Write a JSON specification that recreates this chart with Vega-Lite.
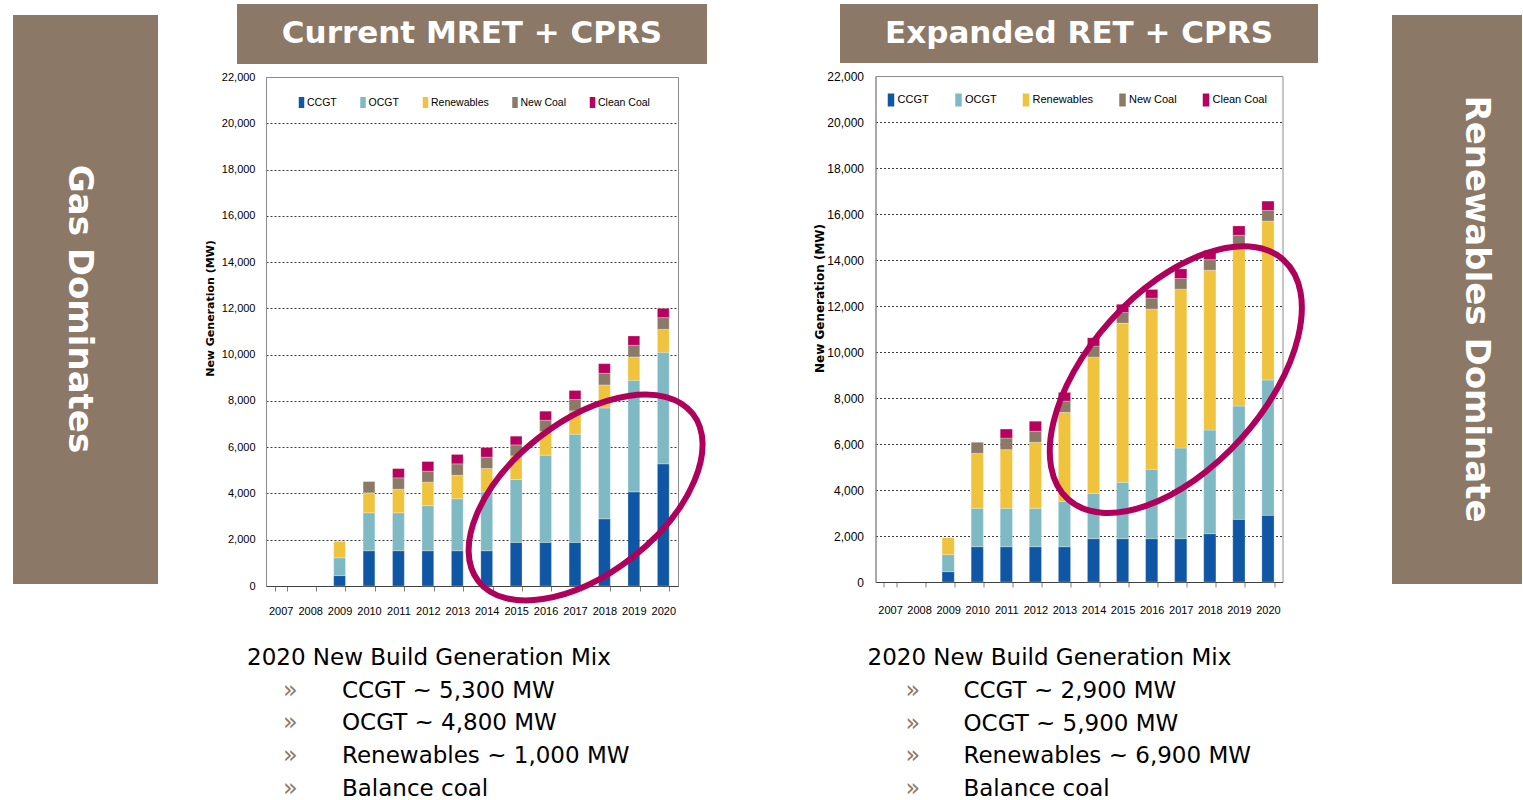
{
  "$schema": "https://vega.github.io/schema/vega-lite/v6.json",
  "padding": {"left": 13, "top": 4, "right": 0, "bottom": 0},
  "background": "white",
  "spacing": 0,
  "config": {
    "view": {"stroke": null},
    "font": "DejaVu Sans",
    "axis": {"labelFont": "Liberation Sans", "labelColor": "#000000", "labelFontSize": 11},
    "legend": {"labelFont": "Liberation Sans", "labelColor": "#000000"}
  },
  "resolve": {"scale": {"color": "independent"}, "legend": {"color": "independent"}},
  "datasets": {
    "left": [
      {"year": 2009, "type": "CCGT", "mw": 450}, {"year": 2009, "type": "OCGT", "mw": 770}, {"year": 2009, "type": "Renewables", "mw": 710},
      {"year": 2010, "type": "CCGT", "mw": 1525}, {"year": 2010, "type": "OCGT", "mw": 1640}, {"year": 2010, "type": "Renewables", "mw": 860}, {"year": 2010, "type": "New Coal", "mw": 490},
      {"year": 2011, "type": "CCGT", "mw": 1525}, {"year": 2011, "type": "OCGT", "mw": 1640}, {"year": 2011, "type": "Renewables", "mw": 1020}, {"year": 2011, "type": "New Coal", "mw": 490}, {"year": 2011, "type": "Clean Coal", "mw": 400},
      {"year": 2012, "type": "CCGT", "mw": 1525}, {"year": 2012, "type": "OCGT", "mw": 1945}, {"year": 2012, "type": "Renewables", "mw": 1020}, {"year": 2012, "type": "New Coal", "mw": 475}, {"year": 2012, "type": "Clean Coal", "mw": 415},
      {"year": 2013, "type": "CCGT", "mw": 1525}, {"year": 2013, "type": "OCGT", "mw": 2245}, {"year": 2013, "type": "Renewables", "mw": 1020}, {"year": 2013, "type": "New Coal", "mw": 490}, {"year": 2013, "type": "Clean Coal", "mw": 405},
      {"year": 2014, "type": "CCGT", "mw": 1525}, {"year": 2014, "type": "OCGT", "mw": 2545}, {"year": 2014, "type": "Renewables", "mw": 1010}, {"year": 2014, "type": "New Coal", "mw": 490}, {"year": 2014, "type": "Clean Coal", "mw": 415},
      {"year": 2015, "type": "CCGT", "mw": 1885}, {"year": 2015, "type": "OCGT", "mw": 2720}, {"year": 2015, "type": "Renewables", "mw": 1020}, {"year": 2015, "type": "New Coal", "mw": 475}, {"year": 2015, "type": "Clean Coal", "mw": 375},
      {"year": 2016, "type": "CCGT", "mw": 1885}, {"year": 2016, "type": "OCGT", "mw": 3770}, {"year": 2016, "type": "Renewables", "mw": 1020}, {"year": 2016, "type": "New Coal", "mw": 490}, {"year": 2016, "type": "Clean Coal", "mw": 390},
      {"year": 2017, "type": "CCGT", "mw": 1885}, {"year": 2017, "type": "OCGT", "mw": 4675}, {"year": 2017, "type": "Renewables", "mw": 1010}, {"year": 2017, "type": "New Coal", "mw": 490}, {"year": 2017, "type": "Clean Coal", "mw": 390},
      {"year": 2018, "type": "CCGT", "mw": 2905}, {"year": 2018, "type": "OCGT", "mw": 4790}, {"year": 2018, "type": "Renewables", "mw": 995}, {"year": 2018, "type": "New Coal", "mw": 505}, {"year": 2018, "type": "Clean Coal", "mw": 415},
      {"year": 2019, "type": "CCGT", "mw": 4070}, {"year": 2019, "type": "OCGT", "mw": 4820}, {"year": 2019, "type": "Renewables", "mw": 1010}, {"year": 2019, "type": "New Coal", "mw": 505}, {"year": 2019, "type": "Clean Coal", "mw": 400},
      {"year": 2020, "type": "CCGT", "mw": 5280}, {"year": 2020, "type": "OCGT", "mw": 4820}, {"year": 2020, "type": "Renewables", "mw": 995}, {"year": 2020, "type": "New Coal", "mw": 505}, {"year": 2020, "type": "Clean Coal", "mw": 400}
    ],
    "right": [
      {"year": 2009, "type": "CCGT", "mw": 450}, {"year": 2009, "type": "OCGT", "mw": 740}, {"year": 2009, "type": "Renewables", "mw": 740},
      {"year": 2010, "type": "CCGT", "mw": 1535}, {"year": 2010, "type": "OCGT", "mw": 1670}, {"year": 2010, "type": "Renewables", "mw": 2390}, {"year": 2010, "type": "New Coal", "mw": 480},
      {"year": 2011, "type": "CCGT", "mw": 1535}, {"year": 2011, "type": "OCGT", "mw": 1670}, {"year": 2011, "type": "Renewables", "mw": 2550}, {"year": 2011, "type": "New Coal", "mw": 505}, {"year": 2011, "type": "Clean Coal", "mw": 390},
      {"year": 2012, "type": "CCGT", "mw": 1535}, {"year": 2012, "type": "OCGT", "mw": 1670}, {"year": 2012, "type": "Renewables", "mw": 2870}, {"year": 2012, "type": "New Coal", "mw": 480}, {"year": 2012, "type": "Clean Coal", "mw": 435},
      {"year": 2013, "type": "CCGT", "mw": 1535}, {"year": 2013, "type": "OCGT", "mw": 1970}, {"year": 2013, "type": "Renewables", "mw": 3870}, {"year": 2013, "type": "New Coal", "mw": 490}, {"year": 2013, "type": "Clean Coal", "mw": 380},
      {"year": 2014, "type": "CCGT", "mw": 1885}, {"year": 2014, "type": "OCGT", "mw": 1970}, {"year": 2014, "type": "Renewables", "mw": 5925}, {"year": 2014, "type": "New Coal", "mw": 480}, {"year": 2014, "type": "Clean Coal", "mw": 360},
      {"year": 2015, "type": "CCGT", "mw": 1885}, {"year": 2015, "type": "OCGT", "mw": 2450}, {"year": 2015, "type": "Renewables", "mw": 6920}, {"year": 2015, "type": "New Coal", "mw": 460}, {"year": 2015, "type": "Clean Coal", "mw": 360},
      {"year": 2016, "type": "CCGT", "mw": 1885}, {"year": 2016, "type": "OCGT", "mw": 3015}, {"year": 2016, "type": "Renewables", "mw": 6970}, {"year": 2016, "type": "New Coal", "mw": 475}, {"year": 2016, "type": "Clean Coal", "mw": 375},
      {"year": 2017, "type": "CCGT", "mw": 1885}, {"year": 2017, "type": "OCGT", "mw": 3940}, {"year": 2017, "type": "Renewables", "mw": 6910}, {"year": 2017, "type": "New Coal", "mw": 460}, {"year": 2017, "type": "Clean Coal", "mw": 420},
      {"year": 2018, "type": "CCGT", "mw": 2100}, {"year": 2018, "type": "OCGT", "mw": 4505}, {"year": 2018, "type": "Renewables", "mw": 6950}, {"year": 2018, "type": "New Coal", "mw": 460}, {"year": 2018, "type": "Clean Coal", "mw": 405},
      {"year": 2019, "type": "CCGT", "mw": 2725}, {"year": 2019, "type": "OCGT", "mw": 4925}, {"year": 2019, "type": "Renewables", "mw": 6960}, {"year": 2019, "type": "New Coal", "mw": 465}, {"year": 2019, "type": "Clean Coal", "mw": 405},
      {"year": 2020, "type": "CCGT", "mw": 2900}, {"year": 2020, "type": "OCGT", "mw": 5880}, {"year": 2020, "type": "Renewables", "mw": 6915}, {"year": 2020, "type": "New Coal", "mw": 460}, {"year": 2020, "type": "Clean Coal", "mw": 405}
    ],
    "leftText": [
      {"line": 1, "kind": "heading", "label": "2020 New Build Generation Mix"},
      {"line": 2, "kind": "item", "label": "CCGT ~ 5,300 MW"},
      {"line": 3, "kind": "item", "label": "OCGT ~ 4,800 MW"},
      {"line": 4, "kind": "item", "label": "Renewables ~ 1,000 MW"},
      {"line": 5, "kind": "item", "label": "Balance coal"}
    ],
    "rightText": [
      {"line": 1, "kind": "heading", "label": "2020 New Build Generation Mix"},
      {"line": 2, "kind": "item", "label": "CCGT ~ 2,900 MW"},
      {"line": 3, "kind": "item", "label": "OCGT ~ 5,900 MW"},
      {"line": 4, "kind": "item", "label": "Renewables ~ 6,900 MW"},
      {"line": 5, "kind": "item", "label": "Balance coal"}
    ],
    "ellipseLeft": [{"year": 2017.36, "mw": 3825}],
    "ellipseRight": [{"year": 2016.83, "mw": 8800}]
  },
  "hconcat": [
    {
      "spacing": 0,
      "vconcat": [
        {"width": 145, "height": 11, "data": {"values": []}, "mark": "text"},
        {
          "width": 145, "height": 569,
          "view": {"fill": "#8B7866", "stroke": null},
          "data": {"values": [{"label": "Gas Dominates"}]},
          "mark": {"type": "text", "angle": 90, "font": "DejaVu Sans", "fontWeight": "bold", "fontSize": 34, "color": "#ffffff", "align": "center", "baseline": "middle", "dx": 9.5, "dy": 6.5},
          "encoding": {"text": {"field": "label"}}
        }
      ]
    },
    {"width": 44.5, "height": 10, "data": {"values": []}, "mark": "text"},
    {
      "bounds": "flush",
      "center": true,
      "spacing": 13,
      "resolve": {"scale": {"color": "independent"}, "legend": {"color": "independent"}},
      "vconcat": [
        {
          "width": 470, "height": 60,
          "view": {"fill": "#8B7866", "stroke": null},
          "data": {"values": [{"label": "Current MRET + CPRS"}]},
          "mark": {"type": "text", "font": "DejaVu Sans", "fontWeight": "bold", "fontSize": 31, "color": "#ffffff", "align": "center", "baseline": "middle"},
          "encoding": {"text": {"field": "label"}}
        },
        {
          "width": 412, "height": 509,
          "view": {"stroke": "#8c8c8c", "strokeWidth": 1},
          "resolve": {"scale": {"x": "independent"}, "legend": {"color": "independent"}},
          "layer": [
            {
              "data": {"name": "left"},
              "transform": [{"calculate": "indexof(['CCGT','OCGT','Renewables','New Coal','Clean Coal'], datum.type)", "as": "stackOrder"}],
              "mark": {"type": "bar", "stroke": "#ffffff", "strokeWidth": 0.5, "strokeOpacity": 0.5},
              "encoding": {
                "x": {"field": "year", "type": "ordinal",
                  "scale": {"domain": [2007, 2008, 2009, 2010, 2011, 2012, 2013, 2014, 2015, 2016, 2017, 2018, 2019, 2020], "paddingInner": 0.6, "paddingOuter": 0.3},
                  "axis": {"title": null, "labelAngle": 0, "tickBand": "extent", "tickSize": 5, "tickColor": "#808080", "domainColor": "#404040", "labelPadding": 14, "grid": false}},
                "y": {"field": "mw", "type": "quantitative", "stack": "zero", "title": "New Generation (MW)",
                  "scale": {"domain": [0, 22000], "nice": false},
                  "axis": {"titleFont": "DejaVu Sans", "titleFontSize": 11, "titleFontWeight": "bold", "titleColor": "#000000", "titleX": -56, "titleY": 231, "titleBaseline": "middle", "titleAngle": 270,
                    "values": [0, 2000, 4000, 6000, 8000, 10000, 12000, 14000, 16000, 18000, 20000, 22000], "format": ",d", "ticks": false, "labelPadding": 11, "domainColor": "#8c8c8c",
                    "grid": true, "gridColor": "#3a3a3a", "gridDash": [2, 2], "gridWidth": 1,
                    "gridOpacity": {"condition": {"test": "datum.value === 0 || datum.value === 22000", "value": 0}, "value": 1}}},
                "order": {"field": "stackOrder", "type": "quantitative"},
                "color": {"field": "type", "type": "nominal",
                  "sort": ["CCGT", "OCGT", "Renewables", "New Coal", "Clean Coal"],
                  "scale": {"domain": ["CCGT", "OCGT", "Renewables", "New Coal", "Clean Coal"], "range": ["#0F57A5", "#7EB9C4", "#F0C33E", "#8C7A69", "#B8005E"]},
                  "legend": {"orient": "none", "legendX": 30, "legendY": 20, "direction": "horizontal", "title": null, "symbolType": "M-0.5,-1H0.5V1H-0.5Z", "symbolSize": 121, "symbolStrokeWidth": 0, "symbolOpacity": 1, "labelFontSize": 10.5, "labelOffset": 0, "columnPadding": 20.5, "padding": 0}}
              }
            },
            {
              "data": {"name": "ellipseLeft"},
              "mark": {"type": "point", "shape": "M1,0C1,0.3087,0.5523,0.559,0,0.559C-0.5523,0.559,-1,0.3087,-1,0C-1,-0.3087,-0.5523,-0.559,0,-0.559C0.5523,-0.559,1,-0.3087,1,0Z", "size": 73984, "angle": -38, "filled": false, "stroke": "#AF005C", "strokeWidth": 6, "opacity": 1},
              "encoding": {
                "x": {"field": "year", "type": "quantitative", "scale": {"domain": [2006.5, 2020.5], "nice": false, "zero": false}, "axis": null},
                "y": {"field": "mw", "type": "quantitative", "title": "New Generation (MW)"}
              }
            }
          ]
        },
        {
          "width": 450, "height": 199,
          "data": {"name": "leftText"},
          "encoding": {
            "y": {"field": "line", "type": "quantitative", "scale": {"domain": [-0.8015, 5.2748], "reverse": true, "nice": false, "zero": false}, "axis": null}
          },
          "layer": [
            {
              "transform": [{"filter": "datum.kind === 'heading'"}],
              "mark": {"type": "text", "font": "DejaVu Sans", "fontSize": 23, "color": "#000000", "align": "left", "baseline": "middle"},
              "encoding": {"x": {"datum": 0, "type": "quantitative", "scale": {"domain": [0, 450], "nice": false, "zero": false}, "axis": null}, "text": {"field": "label"}}
            },
            {
              "transform": [{"filter": "datum.kind === 'item'"}],
              "mark": {"type": "text", "font": "DejaVu Sans", "fontSize": 24, "color": "#8C7B69", "align": "left", "baseline": "middle", "text": "»"},
              "encoding": {"x": {"datum": 36, "type": "quantitative"}}
            },
            {
              "transform": [{"filter": "datum.kind === 'item'"}],
              "mark": {"type": "text", "font": "DejaVu Sans", "fontSize": 23, "color": "#000000", "align": "left", "baseline": "middle"},
              "encoding": {"x": {"datum": 95, "type": "quantitative"}, "text": {"field": "label"}}
            }
          ]
        }
      ]
    },
    {"width": 95.5, "height": 10, "data": {"values": []}, "mark": "text"},
    {
      "bounds": "flush",
      "center": true,
      "spacing": 13,
      "resolve": {"scale": {"color": "independent"}, "legend": {"color": "independent"}},
      "vconcat": [
        {
          "width": 478, "height": 59,
          "view": {"fill": "#8B7866", "stroke": null},
          "data": {"values": [{"label": "Expanded RET + CPRS"}]},
          "mark": {"type": "text", "font": "DejaVu Sans", "fontWeight": "bold", "fontSize": 31, "color": "#ffffff", "align": "center", "baseline": "middle"},
          "encoding": {"text": {"field": "label"}}
        },
        {
          "width": 407, "height": 506,
          "view": {"stroke": "#8c8c8c", "strokeWidth": 1},
          "resolve": {"scale": {"x": "independent"}, "legend": {"color": "independent"}},
          "layer": [
            {
              "data": {"name": "right"},
              "transform": [{"calculate": "indexof(['CCGT','OCGT','Renewables','New Coal','Clean Coal'], datum.type)", "as": "stackOrder"}],
              "mark": {"type": "bar", "stroke": "#ffffff", "strokeWidth": 0.5, "strokeOpacity": 0.5},
              "encoding": {
                "x": {"field": "year", "type": "ordinal",
                  "scale": {"domain": [2007, 2008, 2009, 2010, 2011, 2012, 2013, 2014, 2015, 2016, 2017, 2018, 2019, 2020], "paddingInner": 0.58, "paddingOuter": 0.29},
                  "axis": {"title": null, "labelAngle": 0, "tickBand": "extent", "tickSize": 5, "tickColor": "#808080", "domainColor": "#404040", "labelPadding": 17, "grid": false}},
                "y": {"field": "mw", "type": "quantitative", "stack": "zero", "title": "New Generation (MW)",
                  "scale": {"domain": [0, 22000], "nice": false},
                  "axis": {"titleFont": "DejaVu Sans", "titleFontSize": 12, "titleFontWeight": "bold", "titleColor": "#000000", "titleX": -56.5, "titleY": 222, "titleBaseline": "middle", "titleAngle": 270,
                    "values": [0, 2000, 4000, 6000, 8000, 10000, 12000, 14000, 16000, 18000, 20000, 22000], "format": ",d", "ticks": false, "labelPadding": 12, "labelFontSize": 12, "domainColor": "#8c8c8c",
                    "grid": true, "gridColor": "#3a3a3a", "gridDash": [2, 2], "gridWidth": 1,
                    "gridOpacity": {"condition": {"test": "datum.value === 0 || datum.value === 22000", "value": 0}, "value": 1}}},
                "order": {"field": "stackOrder", "type": "quantitative"},
                "color": {"field": "type", "type": "nominal",
                  "sort": ["CCGT", "OCGT", "Renewables", "New Coal", "Clean Coal"],
                  "scale": {"domain": ["CCGT", "OCGT", "Renewables", "New Coal", "Clean Coal"], "range": ["#0F57A5", "#7EB9C4", "#F0C33E", "#8C7A69", "#B8005E"]},
                  "legend": {"orient": "none", "legendX": 9, "legendY": 17.5, "direction": "horizontal", "title": null, "symbolType": "M-0.5,-1H0.5V1H-0.5Z", "symbolSize": 169, "symbolStrokeWidth": 0, "symbolOpacity": 1, "labelFontSize": 11, "labelOffset": 0, "columnPadding": 22.5, "padding": 0}}
              }
            },
            {
              "data": {"name": "ellipseRight"},
              "mark": {"type": "point", "shape": "M1,0C1,0.3019,0.5523,0.5466,0,0.5466C-0.5523,0.5466,-1,0.3019,-1,0C-1,-0.3019,-0.5523,-0.5466,0,-0.5466C0.5523,-0.5466,1,-0.3019,1,0Z", "size": 103684, "angle": -48, "filled": false, "stroke": "#AF005C", "strokeWidth": 6, "opacity": 1},
              "encoding": {
                "x": {"field": "year", "type": "quantitative", "scale": {"domain": [2006.5, 2020.5], "nice": false, "zero": false}, "axis": null},
                "y": {"field": "mw", "type": "quantitative", "title": "New Generation (MW)"}
              }
            }
          ]
        },
        {
          "width": 423, "height": 203,
          "data": {"name": "rightText"},
          "encoding": {
            "y": {"field": "line", "type": "quantitative", "scale": {"domain": [-0.9237, 5.2748], "reverse": true, "nice": false, "zero": false}, "axis": null}
          },
          "layer": [
            {
              "transform": [{"filter": "datum.kind === 'heading'"}],
              "mark": {"type": "text", "font": "DejaVu Sans", "fontSize": 23, "color": "#000000", "align": "left", "baseline": "middle"},
              "encoding": {"x": {"datum": 0, "type": "quantitative", "scale": {"domain": [0, 423], "nice": false, "zero": false}, "axis": null}, "text": {"field": "label"}}
            },
            {
              "transform": [{"filter": "datum.kind === 'item'"}],
              "mark": {"type": "text", "font": "DejaVu Sans", "fontSize": 24, "color": "#8C7B69", "align": "left", "baseline": "middle", "text": "»"},
              "encoding": {"x": {"datum": 38, "type": "quantitative"}}
            },
            {
              "transform": [{"filter": "datum.kind === 'item'"}],
              "mark": {"type": "text", "font": "DejaVu Sans", "fontSize": 23, "color": "#000000", "align": "left", "baseline": "middle"},
              "encoding": {"x": {"datum": 96, "type": "quantitative"}, "text": {"field": "label"}}
            }
          ]
        }
      ]
    },
    {"width": 73.5, "height": 10, "data": {"values": []}, "mark": "text"},
    {
      "spacing": 0,
      "vconcat": [
        {"width": 130, "height": 11, "data": {"values": []}, "mark": "text"},
        {
          "width": 130, "height": 569,
          "view": {"fill": "#8B7866", "stroke": null},
          "data": {"values": [{"label": "Renewables Dominate"}]},
          "mark": {"type": "text", "angle": 90, "font": "DejaVu Sans", "fontWeight": "bold", "fontSize": 34, "color": "#ffffff", "align": "center", "baseline": "middle", "dx": 9.5, "dy": -19},
          "encoding": {"text": {"field": "label"}}
        }
      ]
    }
  ]
}
